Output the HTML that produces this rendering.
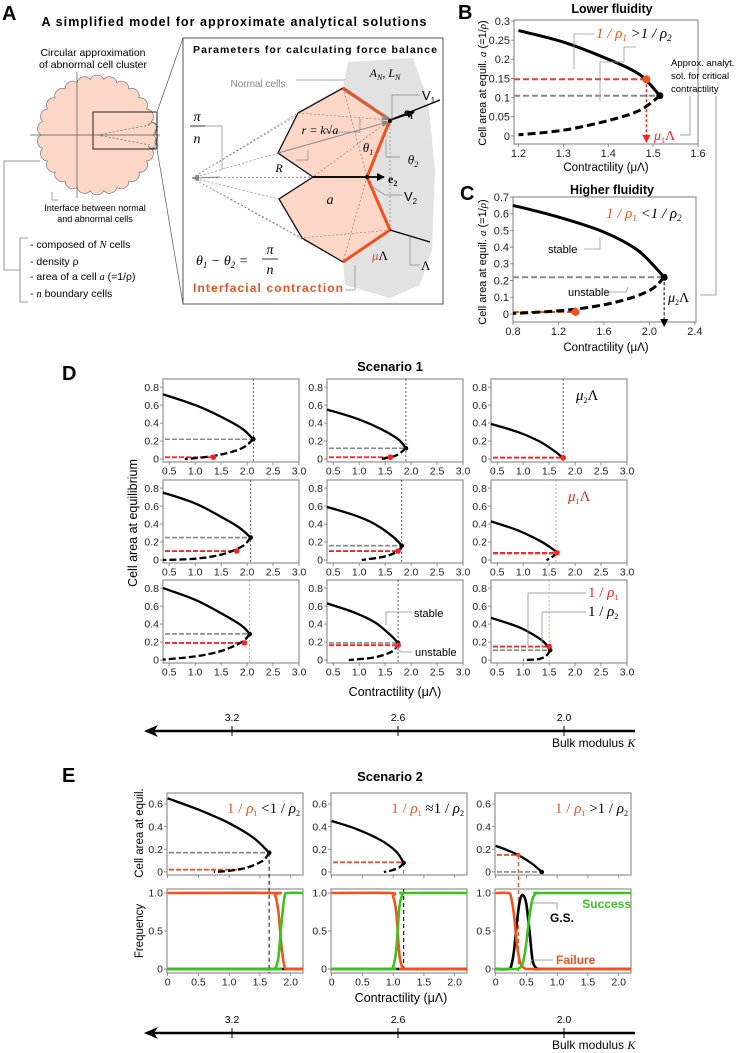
<!DOCTYPE html>
<html><head><meta charset="utf-8"><style>
html,body{margin:0;padding:0;background:#fff;}
svg{display:block;font-family:"Liberation Sans",sans-serif;}
.ser{font-family:"Liberation Serif",serif;font-style:italic;}
</style></head><body>
<svg id="fig" width="750" height="1053" viewBox="0 0 750 1053" xmlns="http://www.w3.org/2000/svg">
<defs>
<marker id="ah" markerWidth="8" markerHeight="8" refX="7" refY="4" orient="auto" markerUnits="userSpaceOnUse"><path d="M0,0 L8,4 L0,8 Z" fill="#000"/></marker>
<marker id="ahg" markerWidth="7" markerHeight="7" refX="6" refY="3.5" orient="auto" markerUnits="userSpaceOnUse"><path d="M0,0 L7,3.5 L0,7 Z" fill="#888"/></marker>
<marker id="ahr" markerWidth="8" markerHeight="8" refX="7" refY="4" orient="auto" markerUnits="userSpaceOnUse"><path d="M0,0 L8,4 L0,8 Z" fill="#f22"/></marker>
</defs>
<!-- Panel A -->
<g>
<text x="2" y="20" font-size="20" font-weight="bold">A</text>
<text x="234" y="26" font-size="12.5" font-weight="bold" text-anchor="middle" textLength="385">A simplified model for approximate analytical solutions</text>
<text x="93" y="56" font-size="10.5" text-anchor="middle">Circular approximation</text>
<text x="93" y="68" font-size="10.5" text-anchor="middle">of abnormal cell cluster</text>
<path id="scallop" fill="#fcd6c6" stroke="#777" stroke-width="0.7"/>
<line x1="30" y1="135" x2="160" y2="135" stroke="#555" stroke-width="0.7"/>
<line x1="77" y1="72" x2="77" y2="198" stroke="#555" stroke-width="0.7"/>
<rect x="93" y="112" width="64" height="37" fill="none" stroke="#222" stroke-width="1"/>
<path d="M97,135 L150,125 M97,135 L150,145" stroke="#555" stroke-width="0.6" stroke-dasharray="2,2" fill="none"/>
<path d="M148,125 q6,-6 10,2 q-6,5 0,10 q-6,6 0,9 q-6,5 -10,0" fill="none" stroke="#555" stroke-width="0.7"/>
<line x1="157" y1="112" x2="183" y2="38" stroke="#555" stroke-width="0.7"/>
<line x1="157" y1="149" x2="183" y2="304" stroke="#555" stroke-width="0.7"/>
<path d="M52,192 L52,200 L58,200" fill="none" stroke="#777" stroke-width="0.7"/>
<text x="95" y="211" font-size="9" text-anchor="middle">Interface between normal</text>
<text x="95" y="222" font-size="9" text-anchor="middle">and abnormal cells</text>
<path d="M40,161 L4,161 L4,270 L20,270 M28,238 L20,238 L20,302 L28,302" fill="none" stroke="#777" stroke-width="0.8"/>
<text x="30" y="248" font-size="10.5">- composed of <tspan class="ser">N</tspan> cells</text>
<text x="30" y="265" font-size="10.5">- density ρ</text>
<text x="30" y="280" font-size="10.5">- area of a cell <tspan class="ser">a</tspan> (=1/ρ)</text>
<text x="30" y="297" font-size="10.5">- <tspan class="ser">n</tspan> boundary cells</text>
<rect x="183" y="38" width="260" height="266" fill="#fff" stroke="#555" stroke-width="1"/>
<text x="315" y="53" font-size="10.5" font-weight="bold" text-anchor="middle" textLength="244">Parameters for calculating force balance</text>
<path d="M348,62 L413,58 L428,100 L435,170 L432,250 L420,285 L390,298 L345,285 L343,262 L390,230 L367,177 L390,120 L343,88 Z" fill="#e2e2e2"/>
<g stroke="#777" stroke-width="0.6" stroke-dasharray="2,2" fill="none">
<path d="M192,178 L298,113 M192,178 L343,88 M192,178 L278,153 M192,178 L313,177 M192,178 L279,199 M192,178 L302,238 M192,178 L343,262 M192,178 L367,177"/>
</g>
<polygon points="343,88 390,120 367,177 313,177 278,153 298,113" fill="#fcd6c6" stroke="#111" stroke-width="1.3"/>
<polygon points="313,177 367,177 390,230 343,262 302,238 279,199" fill="#fcd6c6" stroke="#111" stroke-width="1.3"/>
<path d="M343,88 L367,177 M390,120 L313,177 M298,113 L390,120 M367,177 L343,262 M390,230 L302,238 M390,120 L390,230" stroke="#777" stroke-width="0.6" stroke-dasharray="2,2" fill="none"/>
<path d="M343,88 L390,120 L367,177 L390,230 L343,262" fill="none" stroke="#f0501e" stroke-width="3"/>
<line x1="343" y1="90" x2="388" y2="120" stroke="#888" stroke-width="1" marker-end="url(#ahg)"/>
<line x1="278" y1="153" x2="388" y2="122" stroke="#888" stroke-width="1" marker-end="url(#ahg)"/>
<line x1="220" y1="177" x2="193" y2="178" stroke="#888" stroke-width="1" marker-end="url(#ahg)"/>
<line x1="390" y1="120" x2="440" y2="100" stroke="#000" stroke-width="1.3"/>
<line x1="390" y1="120" x2="414" y2="112" stroke="#000" stroke-width="1.8" marker-end="url(#ah)"/>
<line x1="313" y1="177" x2="384" y2="177" stroke="#000" stroke-width="1.8" marker-end="url(#ah)"/>
<line x1="390" y1="230" x2="430" y2="242" stroke="#000" stroke-width="1.3"/>
<circle cx="390" cy="121" r="2" fill="#000"/>
<circle cx="367" cy="177" r="2" fill="#000"/>
<path d="M205,126 L222,126 L222,170 M296,80 L345,80 M360,118 L360,132 L325,132 M296,160 L308,160 L308,150 M386,140 L386,157 L400,157 M370,185 L385,195 L402,195 M355,265 L355,290 L345,290 M410,236 L410,265 L420,265 M392,122 L392,95 L420,95" fill="none" stroke="#888" stroke-width="0.7"/>
<text class="ser" x="197" y="121" font-size="14" text-anchor="middle">π</text>
<line x1="190" y1="126" x2="205" y2="126" stroke="#000" stroke-width="0.8"/>
<text class="ser" x="197" y="143" font-size="14" text-anchor="middle">n</text>
<text x="258" y="87" font-size="10" fill="#888" text-anchor="middle">Normal cells</text>
<text class="ser" x="385" y="77" font-size="12" text-anchor="middle">A<tspan font-size="8" dy="3">N</tspan><tspan dy="-3">, L</tspan><tspan font-size="8" dy="3">N</tspan></text>
<text class="ser" x="320" y="134" font-size="12" text-anchor="middle">r = k√a</text>
<text class="ser" x="279" y="172" font-size="12" text-anchor="middle">R</text>
<text class="ser" x="368" y="152" font-size="13" text-anchor="middle">θ<tspan font-size="8" dy="3">1</tspan></text>
<text class="ser" x="413" y="164" font-size="13" text-anchor="middle">θ<tspan font-size="8" dy="3">2</tspan></text>
<text x="404" y="116" font-size="12" font-weight="bold" font-family="Liberation Serif">e<tspan font-size="8" dy="3">1</tspan></text>
<text x="422" y="100" font-size="13">V<tspan font-size="8" dy="3">1</tspan></text>
<text x="388" y="183" font-size="12" font-weight="bold" font-family="Liberation Serif">e<tspan font-size="8" dy="3">2</tspan></text>
<text x="404" y="201" font-size="13">V<tspan font-size="8" dy="3">2</tspan></text>
<text class="ser" x="330" y="204" font-size="14" text-anchor="middle">a</text>
<text x="372" y="260" font-size="13" font-family="Liberation Serif"><tspan fill="#f0501e" font-style="italic">μ</tspan>Λ</text>
<text x="421" y="270" font-size="13" font-family="Liberation Serif">Λ</text>
<text class="ser" x="196" y="265" font-size="14">θ<tspan font-size="9" dy="3">1</tspan><tspan dy="-3"> − θ</tspan><tspan font-size="9" dy="3">2</tspan><tspan dy="-3"> =</tspan></text>
<text class="ser" x="270" y="254" font-size="14" text-anchor="middle">π</text>
<line x1="262" y1="259" x2="278" y2="259" stroke="#000" stroke-width="0.8"/>
<text class="ser" x="270" y="274" font-size="14" text-anchor="middle">n</text>
<text x="193" y="292" font-size="12" font-weight="bold" fill="#f0501e" textLength="150">Interfacial contraction</text>
</g>
<g id="charts"></g>
</svg>
<script>
// ---- Panel B data ----
const bUpper = [[1.2,0.275],[1.3,0.245],[1.4,0.2],[1.47,0.16],[1.515,0.105]];
const bLower = [[1.515,0.105],[1.47,0.067],[1.4,0.04],[1.3,0.015],[1.2,0.003]];
const bRed = [1.485,0.148];
const bGray = 0.105;
const bXTicks = [1.2,1.3,1.4,1.5,1.6];
const bYTicks = [0,0.05,0.1,0.15,0.2,0.25,0.3];
// ---- Panel C data ----
const cUpper = [[0.8,0.65],[1.2,0.58],[1.6,0.49],[1.9,0.38],[2.13,0.22]];
const cLower = [[2.13,0.22],[2.0,0.14],[1.7,0.07],[1.3,0.025],[0.8,0.003]];
const cRed = [1.35,0.012];
const cGray = 0.22;
const cXTicks = [0.8,1.2,1.6,2.0,2.4];
const cYTicks = [0,0.1,0.2,0.3,0.4,0.5,0.6,0.7];
// ---- Panel D data (9 panels, row-major) ----
const dUpper = [
 [[0.38,0.72],[1.0,0.6],[1.5,0.47],[1.9,0.34],[2.12,0.22]],
 [[0.38,0.55],[0.9,0.46],[1.4,0.34],[1.75,0.22],[1.9,0.12]],
 [[0.38,0.39],[0.9,0.3],[1.3,0.2],[1.6,0.09],[1.77,0.01]],
 [[0.38,0.75],[1.0,0.63],[1.5,0.48],[1.85,0.36],[2.07,0.25]],
 [[0.38,0.59],[0.9,0.5],[1.3,0.4],[1.65,0.26],[1.82,0.16]],
 [[0.38,0.43],[0.9,0.33],[1.3,0.22],[1.55,0.13],[1.65,0.08]],
 [[0.38,0.8],[1.0,0.67],[1.5,0.52],[1.9,0.38],[2.05,0.29]],
 [[0.38,0.63],[0.9,0.53],[1.3,0.42],[1.6,0.28],[1.75,0.19]],
 [[0.38,0.47],[0.9,0.37],[1.2,0.28],[1.4,0.2],[1.52,0.11]]
];
const dLower = [
 [[2.12,0.22],[1.9,0.12],[1.5,0.05],[1.1,0.015],[0.8,0]],
 [[1.9,0.12],[1.75,0.05],[1.6,0.02],[1.4,0]],
 [],
 [[2.07,0.25],[1.9,0.15],[1.5,0.06],[1.0,0.015],[0.38,0]],
 [[1.82,0.16],[1.75,0.1],[1.5,0.04],[1.05,0]],
 [[1.65,0.08],[1.55,0.03],[1.45,0]],
 [[2.05,0.29],[1.9,0.2],[1.5,0.1],[1.0,0.04],[0.38,0.005]],
 [[1.75,0.19],[1.65,0.1],[1.3,0.03],[0.8,0]],
 [[1.52,0.11],[1.45,0.05],[1.3,0.01],[1.0,0]]
];
const dRedLevel = [0.02,0.02,0.015,0.1,0.1,0.08,0.19,0.165,0.15];
const dRedDotX = [1.35,1.6,1.77,1.8,1.75,1.65,1.95,1.75,1.5];
const dGrayLevel = [0.22,0.12,0.015,0.25,0.16,0.07,0.29,0.19,0.11];
const dCritX = [2.12,1.9,1.77,2.07,1.82,1.63,2.05,1.75,1.5];
const dXTicks = [0.5,1.0,1.5,2.0,2.5,3.0];
const dYTicks = [0,0.2,0.4,0.6,0.8];
// ---- Panel E data ----
const eUpper = [
 [[0,0.65],[0.5,0.55],[1.0,0.43],[1.4,0.3],[1.65,0.17]],
 [[0,0.45],[0.4,0.38],[0.8,0.28],[1.05,0.18],[1.17,0.08]],
 [[0,0.23],[0.2,0.19],[0.4,0.14],[0.6,0.07],[0.75,0]]
];
const eLower = [
 [[1.65,0.17],[1.55,0.1],[1.3,0.04],[1.0,0.01],[0.75,0]],
 [[1.17,0.08],[1.1,0.04],[0.95,0.01],[0.85,0]],
 []
];
const eRedLevel = [0.02,0.085,0.15];
const eRedEndX = [1.2,1.17,0.37];
const eGrayLevel = [0.17,null,0];
const eCritX = [1.65,1.17,0.37];
const eTopYTicks = [0,0.2,0.4,0.6];
const eXTicks = [0,0.5,1.0,1.5,2.0];
const eFreqYTicks = [0,0.5,1.0];
const eFreqX = [
 [0,1.7,1.75,1.8,1.85,1.9,1.95,2.2],
 [0,0.95,1.0,1.05,1.1,1.15,1.2,2.2],
 [0,0.2,0.25,0.3,0.35,0.4,0.45,0.5,0.55,0.6,0.65,0.7,0.75,2.2]
];
const eFailure = [
 [1,1,0.97,0.75,0.3,0.03,0,0],
 [1,1,0.95,0.75,0.2,0.02,0,0],
 [1,1,0.95,0.7,0.3,0.08,0.02,0,0,0,0,0,0,0]
];
const eSuccess = [
 [0,0,0.01,0.15,0.6,0.95,1,1],
 [0,0,0.03,0.25,0.8,0.98,1,1],
 [0,0,0,0,0,0.02,0.1,0.35,0.7,0.92,0.99,1,1,1]
];
const eGS = [
 [0,0,0,0,0,0,0,0],
 [0,0,0,0,0,0,0,0],
 [0,0,0.03,0.25,0.65,0.92,0.97,0.85,0.5,0.12,0.02,0,0,0]
];
const bulkLabels = ['3.2','2.6','2.0'];

const NS='http://www.w3.org/2000/svg';
const root=document.getElementById('charts');
function mk(tag,attrs,name,parent){
  const el=document.createElementNS(NS,tag);
  for(const k in attrs) el.setAttribute(k,attrs[k]);
  
  
  (parent||root).appendChild(el);
  return el;
}
function txt(x,y,s,size,name,extra){
  const a=Object.assign({x:x,y:y,'font-size':size},extra||{});
  const t=mk('text',a,name);
  t.textContent=s;
  return t;
}
function crPath(pts){
  if(pts.length<2) return '';
  let d='M'+pts[0][0].toFixed(1)+','+pts[0][1].toFixed(1);
  for(let i=0;i<pts.length-1;i++){
    const p0=pts[i-1]||pts[i],p1=pts[i],p2=pts[i+1],p3=pts[i+2]||p2;
    const c1=[p1[0]+(p2[0]-p0[0])/6,p1[1]+(p2[1]-p0[1])/6];
    const c2=[p2[0]-(p3[0]-p1[0])/6,p2[1]-(p3[1]-p1[1])/6];
    d+=' C'+c1[0].toFixed(1)+','+c1[1].toFixed(1)+' '+c2[0].toFixed(1)+','+c2[1].toFixed(1)+' '+p2[0].toFixed(1)+','+p2[1].toFixed(1);
  }
  return d;
}
function axes(p,xt,yt,fs,prefix,xfmt,yfmt,showX){
  mk('rect',{x:p.l,y:p.t,width:p.w,height:p.h,fill:'#fff',stroke:'#999','stroke-width':1.3},prefix+'-frame');
  yt.forEach(v=>{
    const y=p.sy(v);
    mk('line',{x1:p.l-3,y1:y,x2:p.l,y2:y,stroke:'#777','stroke-width':0.8},prefix+'-y-tick');
    txt(p.l-4,y+fs*0.35,yfmt(v),fs,prefix+'-y-tick-label',{'text-anchor':'end',fill:'#222'});
  });
  xt.forEach(v=>{
    const x=p.sx(v);
    mk('line',{x1:x,y1:p.t+p.h,x2:x,y2:p.t+p.h+3,stroke:'#777','stroke-width':0.8},prefix+'-x-tick');
    if(showX!==false) txt(x,p.t+p.h+fs+2,xfmt(v),fs,prefix+'-x-tick-label',{'text-anchor':'middle',fill:'#222'});
  });
}
function plot(l,t,w,h,x0,x1,y0,y1){
  return {l,t,w,h,sx:v=>l+(v-x0)/(x1-x0)*w,sy:v=>t+(y1-v)/(y1-y0)*h};
}
function toPx(p,arr){return arr.map(q=>[p.sx(q[0]),p.sy(q[1])]);}
const f1=v=>v.toFixed(1), fTrim=v=>(v===0?'0':String(+v.toFixed(2)));

// ----- Panel B -----
(function(){
  const p=plot(514,20,184,124,1.19,1.6,-0.021,0.3026);
  axes(p,bXTicks,bYTicks,11,'b',f1,fTrim);
  const tip=bUpper[bUpper.length-1];
  mk('line',{x1:p.l,y1:p.sy(bGray),x2:p.sx(tip[0]),y2:p.sy(bGray),stroke:'#888','stroke-width':2,'stroke-dasharray':'6,3'},'b-critical-level');
  mk('line',{x1:p.l,y1:p.sy(bRed[1]),x2:p.sx(bRed[0]),y2:p.sy(bRed[1]),stroke:'#f33','stroke-width':2,'stroke-dasharray':'6,3'},'b-red-level');
  mk('line',{x1:p.sx(bRed[0]),y1:p.sy(bRed[1]),x2:p.sx(bRed[0]),y2:p.t+p.h-2,stroke:'#f22','stroke-width':1.4,'stroke-dasharray':'3,2','marker-end':'url(#ahr)'},'b-red-drop-arrow');
  mk('path',{d:crPath(toPx(p,bUpper)),fill:'none',stroke:'#000','stroke-width':3},'b-stable-branch');
  mk('path',{d:crPath(toPx(p,bLower)),fill:'none',stroke:'#000','stroke-width':3,'stroke-dasharray':'8,4'},'b-unstable-branch');
  mk('circle',{cx:p.sx(bRed[0]),cy:p.sy(bRed[1]),r:4,fill:'#f4511e'},'b-red-dot');
  mk('circle',{cx:p.sx(tip[0]),cy:p.sy(tip[1]),r:3.5,fill:'#000'},'b-tip-dot');
})();
txt(458,19,'B',20,'panel-b-letter',{'font-weight':'bold'});
txt(612,13,'Lower fluidity',12.5,'b-title',{'font-weight':'bold','text-anchor':'middle'});
txt(606,171,'Contractility (μΛ)',11.5,'b-x-title',{'text-anchor':'middle'});
(function(){const t=txt(0,0,'',11,'b-y-title',{transform:'translate(486,83) rotate(-90)','text-anchor':'middle'});t.innerHTML='Cell area at equil. <tspan font-family="Liberation Serif" font-style="italic">a</tspan> (=1/<tspan font-family="Liberation Serif" font-style="italic">ρ</tspan>)';})();
(function(){const t=txt(596,38,'',15,'b-density-relation',{'font-family':'Liberation Serif','font-style':'italic'});t.innerHTML='<tspan fill="#f4511e">1 / ρ<tspan font-size="9" dy="3">1</tspan></tspan><tspan dy="-3"> &gt;1 / ρ</tspan><tspan font-size="9" dy="3">2</tspan>';})();
mk('path',{d:'M594,34 L574,34 L574,69 M636,47 L624,47 L624,62 L600,62 L600,101',fill:'none',stroke:'#999','stroke-width':0.8},'b-relation-leaders');
txt(671,66,'Approx. analyt.',9.5,'b-approx-label');
txt(671,79,'sol. for critical',9.5,'b-approx-label-2');
txt(671,92,'contractility',9.5,'b-approx-label-3');
(function(){const t=txt(654,140,'',14,'b-mu1-lambda',{'font-family':'Liberation Serif',fill:'#f22'});t.innerHTML='<tspan font-style="italic">μ</tspan><tspan font-size="8" dy="3">1</tspan><tspan dy="-3">Λ</tspan>';})();
mk('path',{d:'M680,135 L690,135 L690,96 M716,96 L716,295 L700,295',fill:'none',stroke:'#888','stroke-width':0.8},'b-c-connector');

// ----- Panel C -----
(function(){
  const p=plot(513,197,183,125,0.8,2.41,-0.048,0.7);
  axes(p,cXTicks,cYTicks,11,'c',f1,fTrim);
  const tip=cUpper[cUpper.length-1];
  mk('line',{x1:p.l,y1:p.sy(cGray),x2:p.sx(tip[0]),y2:p.sy(cGray),stroke:'#888','stroke-width':2,'stroke-dasharray':'6,3'},'c-critical-level');
  mk('line',{x1:p.l,y1:p.sy(cRed[1]),x2:p.sx(cRed[0]),y2:p.sy(cRed[1]),stroke:'#f4511e','stroke-width':2,'stroke-dasharray':'6,3'},'c-red-level');
  mk('line',{x1:p.sx(tip[0]),y1:p.sy(tip[1]),x2:p.sx(tip[0]),y2:p.t+p.h+4,stroke:'#222','stroke-width':1.2,'stroke-dasharray':'3,2','marker-end':'url(#ah)'},'c-critical-arrow');
  mk('path',{d:crPath(toPx(p,cUpper)),fill:'none',stroke:'#000','stroke-width':3},'c-stable-branch');
  mk('path',{d:crPath(toPx(p,cLower)),fill:'none',stroke:'#000','stroke-width':3,'stroke-dasharray':'8,4'},'c-unstable-branch');
  mk('circle',{cx:p.sx(cRed[0]),cy:p.sy(cRed[1]),r:4,fill:'#f4511e'},'c-red-dot');
  mk('circle',{cx:p.sx(tip[0]),cy:p.sy(tip[1]),r:3.5,fill:'#000'},'c-tip-dot');
})();
txt(460,200,'C',20,'panel-c-letter',{'font-weight':'bold'});
txt(612,194,'Higher fluidity',12.5,'c-title',{'font-weight':'bold','text-anchor':'middle'});
txt(606,351,'Contractility (μΛ)',11.5,'c-x-title',{'text-anchor':'middle'});
(function(){const t=txt(0,0,'',11,'c-y-title',{transform:'translate(486,262) rotate(-90)','text-anchor':'middle'});t.innerHTML='Cell area at equil. <tspan font-family="Liberation Serif" font-style="italic">a</tspan> (=1/<tspan font-family="Liberation Serif" font-style="italic">ρ</tspan>)';})();
(function(){const t=txt(606,218,'',15,'c-density-relation',{'font-family':'Liberation Serif','font-style':'italic'});t.innerHTML='<tspan fill="#f4511e">1 / ρ<tspan font-size="9" dy="3">1</tspan></tspan><tspan dy="-3"> &lt;1 / ρ</tspan><tspan font-size="9" dy="3">2</tspan>';})();
txt(548,253,'stable',11,'c-stable-label');
txt(568,296,'unstable',11,'c-unstable-label');
mk('path',{d:'M584,249 L600,249 L600,237 M600,292 L626,292 L628,287',fill:'none',stroke:'#999','stroke-width':0.8},'c-label-leaders');
(function(){const t=txt(668,302,'',14,'c-mu2-lambda',{'font-family':'Liberation Serif'});t.innerHTML='<tspan font-style="italic">μ</tspan><tspan font-size="8" dy="3">2</tspan><tspan dy="-3">Λ</tspan>';})();

// ----- Panel D -----
txt(62,380,'D',20,'panel-d-letter',{'font-weight':'bold'});
txt(390,371,'Scenario 1',13,'d-title',{'font-weight':'bold','text-anchor':'middle'});
txt(0,0,'Cell area at equilibrium',12.5,'d-y-title',{transform:'translate(137,523) rotate(-90)','text-anchor':'middle'});
txt(395,696,'Contractility (μΛ)',12.5,'d-x-title',{'text-anchor':'middle'});
const dColL=[163,327,491], dRowT=[379,480,580];
const dCritColor=['#333','#333','#333','#333','#333','#f66','#999','#333','#f88'];
for(let i=0;i<9;i++){
  const p=plot(dColL[i%3],dRowT[Math.floor(i/3)],136,83,0.38,3.0,-0.033,0.89);
  axes(p,dXTicks,dYTicks,10.5,'d'+(i+1),f1,fTrim);
  const up=dUpper[i], tip=up[up.length-1];
  mk('line',{x1:p.sx(dCritX[i]),y1:p.t,x2:p.sx(dCritX[i]),y2:p.t+p.h,stroke:dCritColor[i],'stroke-width':0.8,'stroke-dasharray':'2,2'},'d'+(i+1)+'-critical-line');
  mk('line',{x1:p.l+2,y1:p.sy(dGrayLevel[i]),x2:p.sx(tip[0]),y2:p.sy(dGrayLevel[i]),stroke:'#888','stroke-width':1.6,'stroke-dasharray':'5,2'},'d'+(i+1)+'-critical-level');
  mk('line',{x1:p.l+2,y1:p.sy(dRedLevel[i]),x2:p.sx(dRedDotX[i]),y2:p.sy(dRedLevel[i]),stroke:'#f22','stroke-width':1.8,'stroke-dasharray':'5,2'},'d'+(i+1)+'-red-level');
  mk('path',{d:crPath(toPx(p,up)),fill:'none',stroke:'#000','stroke-width':2.3},'d'+(i+1)+'-stable-branch');
  if(dLower[i].length) mk('path',{d:crPath(toPx(p,dLower[i])),fill:'none',stroke:'#000','stroke-width':2.3,'stroke-dasharray':'7,3'},'d'+(i+1)+'-unstable-branch');
  mk('circle',{cx:p.sx(tip[0]),cy:p.sy(tip[1]),r:2.3,fill:'#000'},'d'+(i+1)+'-tip-dot');
  mk('circle',{cx:p.sx(dRedDotX[i]),cy:p.sy(dRedLevel[i]),r:2.8,fill:'#f22'},'d'+(i+1)+'-red-dot');
}
(function(){const t=txt(576,400,'',15,'d-mu2-lambda-label',{'font-family':'Liberation Serif'});t.innerHTML='<tspan font-style="italic">μ</tspan><tspan font-size="8" dy="3">2</tspan><tspan dy="-3">Λ</tspan>';})();
(function(){const t=txt(568,501,'',15,'d-mu1-lambda-label',{'font-family':'Liberation Serif',fill:'#f22'});t.innerHTML='<tspan font-style="italic">μ</tspan><tspan font-size="8" dy="3">1</tspan><tspan dy="-3">Λ</tspan>';})();
(function(){const t=txt(588,597,'',15,'d-rho1-label',{'font-family':'Liberation Serif',fill:'#f22'});t.innerHTML='1 / <tspan font-style="italic">ρ</tspan><tspan font-size="8" dy="3">1</tspan>';})();
(function(){const t=txt(588,616,'',15,'d-rho2-label',{'font-family':'Liberation Serif'});t.innerHTML='1 / <tspan font-style="italic">ρ</tspan><tspan font-size="8" dy="3">2</tspan>';})();
mk('path',{d:'M586,593 L528,593 L528,645 M586,612 L542,612 L542,647',fill:'none',stroke:'#888','stroke-width':0.8},'d-rho-leaders');
txt(414,617,'stable',11,'d-stable-label');
txt(415,656,'unstable',11,'d-unstable-label');
mk('path',{d:'M412,612 L386,612 L386,625 M412,652 L401,652 L395,647',fill:'none',stroke:'#888','stroke-width':0.8},'d-stability-leaders');

// ----- Bulk modulus axes -----
function bulk(y,prefix){
  mk('line',{x1:635,y1:y,x2:150,y2:y,stroke:'#000','stroke-width':2.5},prefix+'-bulk-axis');
  mk('path',{d:'M144,'+y+' L158,'+(y-6)+' L154,'+y+' L158,'+(y+6)+' Z',fill:'#000'},prefix+'-bulk-arrowhead');
  const xs=[232,398,564];
  bulkLabels.forEach((s,i)=>{
    mk('line',{x1:xs[i],y1:y-5,x2:xs[i],y2:y+5,stroke:'#000','stroke-width':1},prefix+'-bulk-tick');
    txt(xs[i],y-10,s,10.5,prefix+'-bulk-tick-label',{'text-anchor':'middle'});
  });
  const t=txt(552,y+16,'',12,prefix+'-bulk-title');
  t.innerHTML='Bulk modulus <tspan font-family="Liberation Serif" font-style="italic">K</tspan>';
}
bulk(731,'d');
bulk(1033,'e');

// ----- Panel E -----
txt(62,782,'E',20,'panel-e-letter',{'font-weight':'bold'});
txt(390,781,'Scenario 2',13,'e-title',{'font-weight':'bold','text-anchor':'middle'});
txt(0,0,'Cell area at equil.',11.5,'e-top-y-title',{transform:'translate(143,833) rotate(-90)','text-anchor':'middle'});
txt(0,0,'Frequency',11.5,'e-freq-y-title',{transform:'translate(143,931) rotate(-90)','text-anchor':'middle'});
txt(401,1002,'Contractility (μΛ)',12.5,'e-x-title',{'text-anchor':'middle'});
const eColL=[167,331,495];
const eRel=['&lt;','≈','&gt;'];
for(let i=0;i<3;i++){
  const p=plot(eColL[i],793,136,82,-0.01,2.2,-0.027,0.697);
  axes(p,eXTicks,eTopYTicks,10.5,'e'+(i+1)+'-top',f1,fTrim,false);
  const q=plot(eColL[i],889,136,84,-0.01,2.2,-0.053,1.053);
  axes(q,eXTicks,eFreqYTicks,10.5,'e'+(i+1)+'-freq',v=>v===0?'0':v.toFixed(1),v=>v===0?'0':v.toFixed(1));
  const up=eUpper[i], tip=up[up.length-1];
  const cx=p.sx(eCritX[i]);
  if(i===0){
    mk('line',{x1:cx,y1:p.sy(tip[1]),x2:cx,y2:q.t+q.h,stroke:'#333','stroke-width':1.2,'stroke-dasharray':'4,3'},'e1-critical-line');
  } else if(i===1){
    mk('line',{x1:cx,y1:p.sy(tip[1]),x2:cx,y2:p.t+p.h,stroke:'#f4511e','stroke-width':1.2,'stroke-dasharray':'4,3'},'e2-critical-line-top');
    mk('line',{x1:cx,y1:q.t,x2:cx,y2:q.t+q.h,stroke:'#222','stroke-width':1.2,'stroke-dasharray':'4,3'},'e2-critical-line-bottom');
  } else {
    mk('line',{x1:cx,y1:p.sy(eRedLevel[i]),x2:cx,y2:q.t+q.h,stroke:'#f4511e','stroke-width':1.2,'stroke-dasharray':'4,3'},'e3-critical-line');
  }
  if(eGrayLevel[i]!==null) mk('line',{x1:p.l+2,y1:p.sy(eGrayLevel[i]),x2:p.sx(tip[0]),y2:p.sy(eGrayLevel[i]),stroke:'#888','stroke-width':1.6,'stroke-dasharray':'5,2'},'e'+(i+1)+'-critical-level');
  mk('line',{x1:p.l+2,y1:p.sy(eRedLevel[i]),x2:p.sx(eRedEndX[i]),y2:p.sy(eRedLevel[i]),stroke:'#f4511e','stroke-width':1.8,'stroke-dasharray':'5,2'},'e'+(i+1)+'-red-level');
  mk('path',{d:crPath(toPx(p,up)),fill:'none',stroke:'#000','stroke-width':2.3},'e'+(i+1)+'-stable-branch');
  if(eLower[i].length) mk('path',{d:crPath(toPx(p,eLower[i])),fill:'none',stroke:'#000','stroke-width':2.3,'stroke-dasharray':'7,3'},'e'+(i+1)+'-unstable-branch');
  mk('circle',{cx:p.sx(tip[0]),cy:p.sy(tip[1]),r:2.3,fill:'#000'},'e'+(i+1)+'-tip-dot');
  if(i===2) mk('circle',{cx:p.sx(eRedEndX[i]),cy:p.sy(eRedLevel[i]),r:2.3,fill:'#f4511e'},'e3-red-dot');
  const t=txt(p.l+p.w-3,p.t+20,'',15,'e'+(i+1)+'-density-relation',{'font-family':'Liberation Serif','text-anchor':'end'});
  t.innerHTML='<tspan fill="#f4511e">1 / <tspan font-style="italic">ρ</tspan><tspan font-size="8" dy="3">1</tspan></tspan><tspan dy="-3"> '+eRel[i]+'1 / </tspan><tspan font-style="italic">ρ</tspan><tspan font-size="8" dy="3">2</tspan>';
  const xs=eFreqX[i];
  const pts=(arr)=>crPath(xs.map((x,k)=>[q.sx(x),q.sy(arr[k])]));
  mk('path',{d:pts(eGS[i]),fill:'none',stroke:'#000','stroke-width':2.6},'e'+(i+1)+'-gs-curve');
  mk('path',{d:pts(eFailure[i]),fill:'none',stroke:'#f4511e','stroke-width':2.6},'e'+(i+1)+'-failure-curve');
  mk('path',{d:pts(eSuccess[i]),fill:'none',stroke:'#3cc41e','stroke-width':2.6},'e'+(i+1)+'-success-curve');
}
txt(631,908,'Success',12,'e-success-label',{'font-weight':'bold',fill:'#3cc41e','text-anchor':'end'});
txt(550,922,'G.S.',12,'e-gs-label',{'font-weight':'bold'});
txt(556,964,'Failure',12,'e-failure-label',{'font-weight':'bold',fill:'#f4511e'});
mk('path',{d:'M532,903 L557,903 L557,910 M553,960 L532,960 L530,965',fill:'none',stroke:'#888','stroke-width':0.8},'e-label-leaders');

// scalloped circle in panel A
(function(){
  const cx=97,cy=135,r=56,n=26;let d='';
  for(let k=0;k<n;k++){
    const a0=k/n*2*Math.PI,a1=(k+1)/n*2*Math.PI;
    const x0=cx+r*Math.cos(a0),y0=cy+r*Math.sin(a0),x1=cx+r*Math.cos(a1),y1=cy+r*Math.sin(a1);
    d+=(k===0?'M'+x0.toFixed(1)+','+y0.toFixed(1):'')+' A7.5,7.5 0 0 1 '+x1.toFixed(1)+','+y1.toFixed(1);
  }
  document.getElementById('scallop').setAttribute('d',d+'Z');
})();
</script>
</body></html>
